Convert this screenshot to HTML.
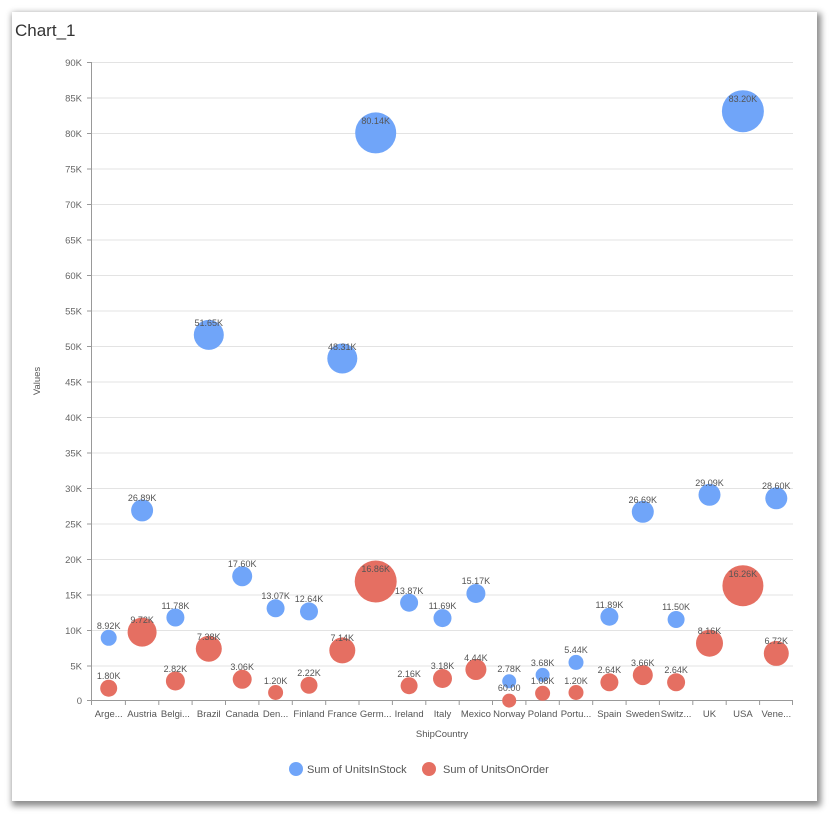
<!DOCTYPE html>
<html><head><meta charset="utf-8"><style>
body{margin:0;background:#fff;width:837px;height:822px;overflow:hidden;font-family:"Liberation Sans",sans-serif}
.card{position:absolute;left:12px;top:12px;width:805px;height:789px;background:#fff;box-shadow:2px 3px 6px 2px rgba(0,0,0,0.45)}
</style></head><body>
<div class="card"></div>
<svg width="837" height="822" style="position:absolute;left:0;top:0" font-family="Liberation Sans, sans-serif">
<text x="15" y="36" font-size="17" fill="#333">Chart_1</text>
<g stroke="#e3e3e3" stroke-width="1">
<line x1="92" x2="793" y1="62.5" y2="62.5"/><line x1="92" x2="793" y1="98" y2="98"/><line x1="92" x2="793" y1="133.5" y2="133.5"/><line x1="92" x2="793" y1="169" y2="169"/><line x1="92" x2="793" y1="204.5" y2="204.5"/><line x1="92" x2="793" y1="240" y2="240"/><line x1="92" x2="793" y1="275.5" y2="275.5"/><line x1="92" x2="793" y1="311" y2="311"/><line x1="92" x2="793" y1="346.5" y2="346.5"/><line x1="92" x2="793" y1="382" y2="382"/><line x1="92" x2="793" y1="417.5" y2="417.5"/><line x1="92" x2="793" y1="453" y2="453"/><line x1="92" x2="793" y1="488.5" y2="488.5"/><line x1="92" x2="793" y1="524" y2="524"/><line x1="92" x2="793" y1="559.5" y2="559.5"/><line x1="92" x2="793" y1="595" y2="595"/><line x1="92" x2="793" y1="630.5" y2="630.5"/><line x1="92" x2="793" y1="666" y2="666"/>
</g>
<g stroke="#999" stroke-width="1">
<line x1="91.5" x2="91.5" y1="62" y2="701"/>
<line x1="91" x2="793" y1="700.5" y2="700.5"/>
<path d="M87 62.5h4M87 98h4M87 133.5h4M87 169h4M87 204.5h4M87 240h4M87 275.5h4M87 311h4M87 346.5h4M87 382h4M87 417.5h4M87 453h4M87 488.5h4M87 524h4M87 559.5h4M87 595h4M87 630.5h4M87 666h4M87 700.5h4"/>
<path d="M91.5 700v5M125.4 700v5M158.8 700v5M192.1 700v5M225.5 700v5M258.9 700v5M292.3 700v5M325.7 700v5M359 700v5M392.4 700v5M425.8 700v5M459.2 700v5M492.5 700v5M525.9 700v5M559.3 700v5M592.7 700v5M626.1 700v5M659.4 700v5M692.8 700v5M726.2 700v5M759.6 700v5M792.5 700v5"/>
</g>
<g font-size="9.5" fill="#666" text-anchor="end">
<text x="82" y="66">90K</text><text x="82" y="101.5">85K</text><text x="82" y="137">80K</text><text x="82" y="172.5">75K</text><text x="82" y="208">70K</text><text x="82" y="243.5">65K</text><text x="82" y="279">60K</text><text x="82" y="314.5">55K</text><text x="82" y="350">50K</text><text x="82" y="385.5">45K</text><text x="82" y="421">40K</text><text x="82" y="456.5">35K</text><text x="82" y="492">30K</text><text x="82" y="527.5">25K</text><text x="82" y="563">20K</text><text x="82" y="598.5">15K</text><text x="82" y="634">10K</text><text x="82" y="669.5">5K</text><text x="82" y="704">0</text>
</g>
<g font-size="9.5" fill="#555" text-anchor="middle">
<text x="108.7" y="717">Arge...</text><text x="142.1" y="717">Austria</text><text x="175.4" y="717">Belgi...</text><text x="208.8" y="717">Brazil</text><text x="242.2" y="717">Canada</text><text x="275.6" y="717">Den...</text><text x="309" y="717">Finland</text><text x="342.3" y="717">France</text><text x="375.7" y="717">Germ...</text><text x="409.1" y="717">Ireland</text><text x="442.5" y="717">Italy</text><text x="475.9" y="717">Mexico</text><text x="509.2" y="717">Norway</text><text x="542.6" y="717">Poland</text><text x="576" y="717">Portu...</text><text x="609.4" y="717">Spain</text><text x="642.8" y="717">Sweden</text><text x="676.1" y="717">Switz...</text><text x="709.5" y="717">UK</text><text x="742.9" y="717">USA</text><text x="776.3" y="717">Vene...</text>
<text x="442" y="737" font-size="9.5">ShipCountry</text>
<text x="0" y="0" transform="translate(40,381) rotate(-90)" font-size="9.5">Values</text>
</g>
<g fill="#70a5f9">
<circle cx="108.7" cy="637.8" r="8"/><circle cx="142.1" cy="510.4" r="11"/><circle cx="175.4" cy="617.5" r="9"/><circle cx="208.8" cy="334.9" r="15"/><circle cx="242.2" cy="576.2" r="10"/><circle cx="275.6" cy="608.3" r="9"/><circle cx="309" cy="611.4" r="9"/><circle cx="342.3" cy="358.5" r="15"/><circle cx="375.7" cy="132.9" r="20.5"/><circle cx="409.1" cy="602.7" r="9"/><circle cx="442.5" cy="618.1" r="9"/><circle cx="475.9" cy="593.5" r="9.5"/><circle cx="509.2" cy="681.3" r="7"/><circle cx="542.6" cy="674.9" r="7"/><circle cx="576" cy="662.4" r="7.5"/><circle cx="609.4" cy="616.7" r="9"/><circle cx="642.8" cy="511.8" r="11"/><circle cx="676.1" cy="619.5" r="8.5"/><circle cx="709.5" cy="494.8" r="11"/><circle cx="742.9" cy="111.2" r="21"/><circle cx="776.3" cy="498.3" r="11"/>
</g>
<g fill="#e56f62">
<circle cx="108.7" cy="688.2" r="8.5"/><circle cx="142.1" cy="632.1" r="14.5"/><circle cx="175.4" cy="681" r="9.5"/><circle cx="208.8" cy="648.7" r="13"/><circle cx="242.2" cy="679.3" r="9.5"/><circle cx="275.6" cy="692.5" r="7.5"/><circle cx="309" cy="685.3" r="8.5"/><circle cx="342.3" cy="650.4" r="13"/><circle cx="375.7" cy="581.5" r="21"/><circle cx="409.1" cy="685.7" r="8.5"/><circle cx="442.5" cy="678.5" r="9.5"/><circle cx="475.9" cy="669.5" r="10.5"/><circle cx="509.2" cy="700.6" r="7"/><circle cx="542.6" cy="693.3" r="7.5"/><circle cx="576" cy="692.5" r="7.5"/><circle cx="609.4" cy="682.3" r="9"/><circle cx="642.8" cy="675.1" r="10"/><circle cx="676.1" cy="682.3" r="9"/><circle cx="709.5" cy="643.2" r="13.5"/><circle cx="742.9" cy="585.7" r="20.5"/><circle cx="776.3" cy="653.4" r="12.5"/>
</g>
<g font-size="9" fill="#555" text-anchor="middle">
<text x="108.7" y="629">8.92K</text><text x="142.1" y="501">26.89K</text><text x="175.4" y="609">11.78K</text><text x="208.8" y="326">51.65K</text><text x="242.2" y="567">17.60K</text><text x="275.6" y="599">13.07K</text><text x="309" y="602">12.64K</text><text x="342.3" y="350">48.31K</text><text x="375.7" y="124">80.14K</text><text x="409.1" y="594">13.87K</text><text x="442.5" y="609">11.69K</text><text x="475.9" y="584">15.17K</text><text x="509.2" y="672">2.78K</text><text x="542.6" y="666">3.68K</text><text x="576" y="653">5.44K</text><text x="609.4" y="608">11.89K</text><text x="642.8" y="503">26.69K</text><text x="676.1" y="610">11.50K</text><text x="709.5" y="486">29.09K</text><text x="742.9" y="102">83.20K</text><text x="776.3" y="489">28.60K</text>
<text x="108.7" y="679">1.80K</text><text x="142.1" y="623">9.72K</text><text x="175.4" y="672">2.82K</text><text x="208.8" y="640">7.38K</text><text x="242.2" y="670">3.06K</text><text x="275.6" y="684">1.20K</text><text x="309" y="676">2.22K</text><text x="342.3" y="641">7.14K</text><text x="375.7" y="572">16.86K</text><text x="409.1" y="677">2.16K</text><text x="442.5" y="669">3.18K</text><text x="475.9" y="661">4.44K</text><text x="509.2" y="691">60.00</text><text x="542.6" y="684">1.08K</text><text x="576" y="684">1.20K</text><text x="609.4" y="673">2.64K</text><text x="642.8" y="666">3.66K</text><text x="676.1" y="673">2.64K</text><text x="709.5" y="634">8.16K</text><text x="742.9" y="577">16.26K</text><text x="776.3" y="644">6.72K</text>
</g>
<circle cx="296" cy="769" r="7" fill="#70a5f9"/>
<text x="307" y="773" font-size="11" fill="#555">Sum of UnitsInStock</text>
<circle cx="429" cy="769" r="7" fill="#e56f62"/>
<text x="443" y="773" font-size="11" fill="#555">Sum of UnitsOnOrder</text>
</svg>
</body></html>
